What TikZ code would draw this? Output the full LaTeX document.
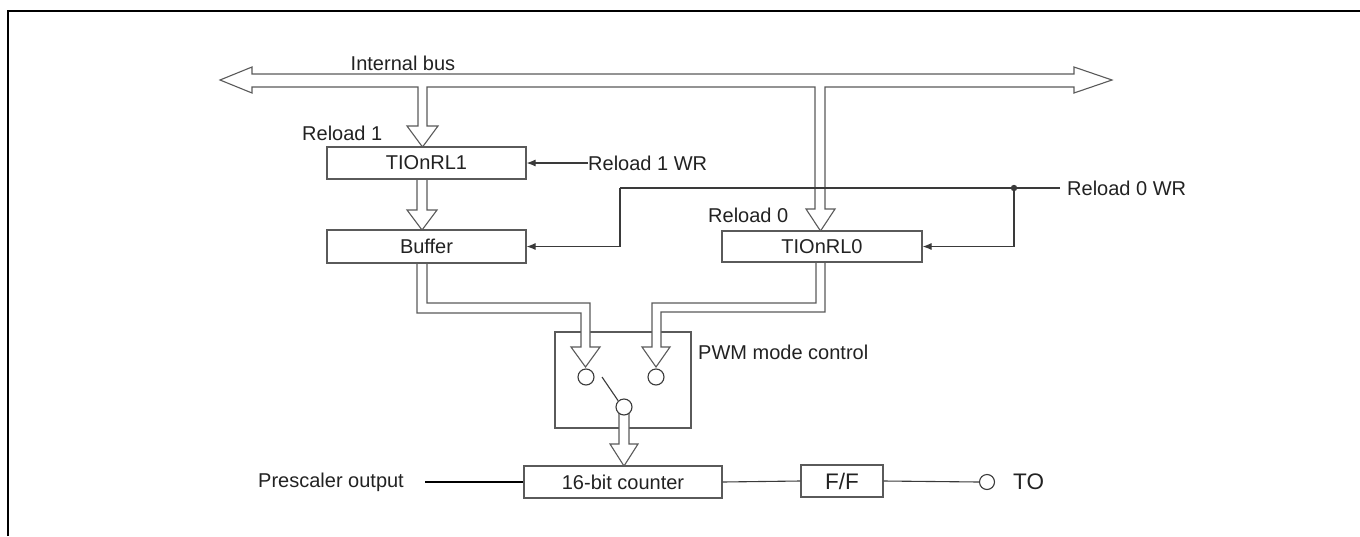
\documentclass[tikz,border=0pt]{standalone}
\usepackage{fontspec}
\setmainfont{Liberation Sans}
\usetikzlibrary{arrows.meta,calc}
\definecolor{boxc}{HTML}{5A5A5A}
\definecolor{linec}{HTML}{3A3A3A}
\definecolor{txt}{HTML}{222222}
\begin{document}
\begin{tikzpicture}[x=1pt,y=-1pt,
  box/.style={draw=boxc,line width=1.1pt,fill=white,inner sep=0pt,text=txt,
    font=\fontsize{20}{24}\selectfont},
  lbl/.style={inner sep=0pt,text=txt,font=\fontsize{20}{24}\selectfont},
  biglbl/.style={inner sep=0pt,text=txt,font=\fontsize{22.5}{26}\selectfont},
  fat/.style={draw=boxc,line width=1.1pt,fill=white,line join=miter},
  sig/.style={draw=linec,line width=1.1pt},
  arr/.style={-{Latex[length=9pt,width=7pt]}},
  ring/.style={circle,draw=linec,line width=1.1pt,fill=white,inner sep=0pt,minimum size=16pt}]
\useasboundingbox (0,0) rectangle (1360,536);
% frame
\draw[black,line width=1.6pt] (8,536) -- (8,11) -- (1360,11);

% PWM box (drawn first so fat arrows cover its border)
\node[box,minimum width=136pt,minimum height=96pt] (pwm) at (623,380) {};

% bus with its two branches
\filldraw[fat] (252,74) -- (252,67) -- (220,80) -- (252,93) -- (252,87)
  -- (418,87) -- (418,126) -- (407,126) -- (422.5,147) -- (438,126) -- (427,126) -- (427,87)
  -- (815,87) -- (815,209) -- (806,209) -- (820.5,231) -- (835,209) -- (825,209) -- (825,87)
  -- (1074,87) -- (1074,93) -- (1112,80) -- (1074,67) -- (1074,74) -- cycle;

% TIOnRL1 -> Buffer
\filldraw[fat] (417,179) -- (417,210) -- (407,210) -- (422,230) -- (437,210) -- (427,210) -- (427,179);

% Buffer -> left switch input
\filldraw[fat] (417,263) -- (417,313) -- (581,313) -- (581,347) -- (571,347) -- (585.5,367)
  -- (600,347) -- (590,347) -- (590,303) -- (427,303) -- (427,263);

% TIOnRL0 -> right switch input
\filldraw[fat] (825,262) -- (825,312) -- (661,312) -- (661,347) -- (670,347) -- (656,367)
  -- (642,347) -- (652,347) -- (652,303) -- (816,303) -- (816,262);

% switch output -> counter
\filldraw[fat] (619,410) -- (619,444) -- (610,444) -- (624,466) -- (638,444) -- (629,444) -- (629,410);

% switch contacts
\node[ring] (cl) at (586,377) {};
\node[ring] (cr) at (656,377) {};
\node[ring] (cb) at (624,407) {};
\coordinate (sw) at (602,377);
\draw[sig] (sw) -- (cb.133);

% boxes
\node[box,minimum width=199pt,minimum height=32pt] (rl1) at (426.5,163) {TIOnRL1};
\node[box,minimum width=199pt,minimum height=33pt] (buf) at (426.5,246.5) {Buffer};
\node[box,minimum width=200pt,minimum height=31pt] (rl0) at (822,246.5) {TIOnRL0};
\node[box,minimum width=198pt,minimum height=32pt] (cnt) at (623,482) {16-bit counter};
\node[box,minimum width=82pt,minimum height=32pt,font=\fontsize{22.5}{26}\selectfont] (ff) at (842,481) {F/F};
\node[ring,minimum size=15pt] (to) at (987,482) {};

% labels
\node[lbl] (ibus) at (403,63) {Internal bus};
\node[lbl,anchor=west] (r1lbl) at (302,133) {Reload 1};
\node[lbl,anchor=west] (r1wr) at (588,163) {Reload 1 WR};
\node[lbl,anchor=west] (r0lbl) at (708,215) {Reload 0};
\node[lbl,anchor=west] (r0wr) at (1067,188) {Reload 0 WR};
\node[lbl,anchor=west] (pwmlbl) at (698,352) {PWM mode control};
\node[lbl,anchor=west] (pre) at (258,482) {Prescaler output};
\node[biglbl,anchor=west] (tolbl) at (1013,482) {TO};

% thin connectors
\draw[sig,arr] (r1wr.west) -- (rl1.east);
\coordinate (j) at (1014,188);
\coordinate (k) at (620,188);
\coordinate (r0end) at (1060,188);
\draw[sig] (r0end) -- (j) -- (k);
\draw[sig,arr] (k) |- (buf.east);
\draw[sig,arr] (j) |- (rl0.east);
\fill[linec] (j) circle (3.2pt);

\coordinate (pstart) at (425,482);
\draw[black,line width=1.6pt] (pstart) -- (cnt.west);
\draw[sig] (cnt.east) -- (ff.west);
\draw[sig] (ff.east) -- (to.west);
\end{tikzpicture}
\end{document}
